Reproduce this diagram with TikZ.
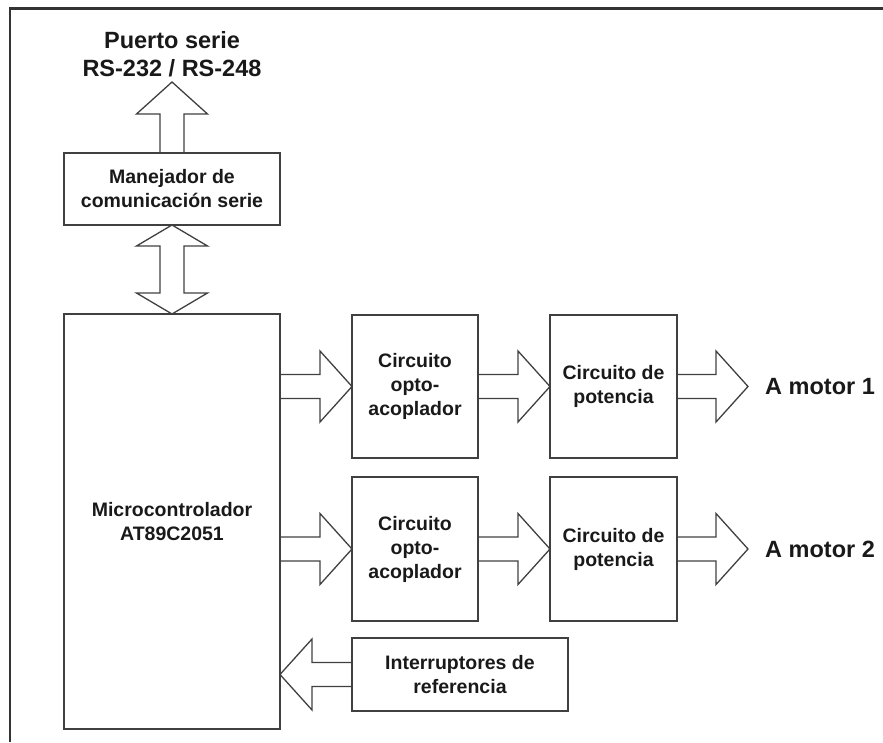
\documentclass[tikz,border=0pt]{standalone}
\usepackage{fontspec}
\setmainfont{Liberation Sans}
\usepackage{tikz}
\usetikzlibrary{positioning,calc}

\newcommand{\boxfont}{\fontsize{19.5}{24}\selectfont\bfseries}
\newcommand{\tagfont}{\fontsize{23.5}{28}\selectfont\bfseries}

\begin{document}
\begin{tikzpicture}[x=1pt,y=1pt,
    blk/.style={draw=black!75, line width=1.3pt, inner sep=0pt, outer sep=0pt, align=center, font=\boxfont, text=black!90},
    lbl/.style={inner sep=0pt, align=center, font=\tagfont, text=black!90},
    fat/.style={draw=black!75, line width=1.3pt, to path={
        ($(\tikztotarget)!32pt!(\tikztostart)$) coordinate (hb)
        ($(\tikztostart)!12pt!90:(\tikztotarget)$)
        -- ($(hb)!12pt!-90:(\tikztostart)$) -- ($(hb)!35.5pt!-90:(\tikztostart)$)
        -- (\tikztotarget)
        -- ($(hb)!35.5pt!90:(\tikztostart)$) -- ($(hb)!12pt!90:(\tikztostart)$)
        -- ($(\tikztostart)!12pt!-90:(\tikztotarget)$) -- cycle}},
    fatboth/.style={draw=black!75, line width=1.3pt, to path={
        ($(\tikztotarget)!21pt!(\tikztostart)$) coordinate (hb)
        ($(\tikztostart)!21pt!(\tikztotarget)$) coordinate (ha)
        ($(ha)!12pt!90:(\tikztotarget)$)
        -- ($(hb)!12pt!-90:(\tikztostart)$) -- ($(hb)!35.5pt!-90:(\tikztostart)$)
        -- (\tikztotarget)
        -- ($(hb)!35.5pt!90:(\tikztostart)$) -- ($(hb)!12pt!90:(\tikztostart)$)
        -- ($(ha)!12pt!-90:(\tikztotarget)$) -- ($(ha)!35.5pt!-90:(\tikztotarget)$)
        -- (\tikztostart)
        -- ($(ha)!35.5pt!90:(\tikztotarget)$) -- cycle}}]
    \useasboundingbox (0,0) rectangle (883,742);
    \draw[line width=2.6pt, black!80] (10,0) -- (10,733.5) -- (883,733.5);

    \node[blk, minimum width=216pt, minimum height=415pt, anchor=north west] (micro) at (64,428) {Microcontrolador\\AT89C2051};
    \node[blk, minimum width=216pt, minimum height=72pt, above=89pt of micro] (man) {Manejador de\\comunicación serie};
    \coordinate [above=71pt of man] (ptip);
    \node[lbl, above=5pt of ptip] (port) {Puerto serie\\RS-232 / RS-248};

    \node[blk, minimum width=126pt, minimum height=143pt, below right=1pt and 72pt of micro.north east] (opto1) {Circuito\\opto-\\acoplador};
    \node[blk, minimum width=127pt, minimum height=143pt, right=72pt of opto1] (pot1) {Circuito de\\potencia};
    \coordinate [right=71pt of pot1] (m1);
    \node[lbl, right=17pt of m1] (mot1) {A motor 1};

    \node[blk, minimum width=126pt, minimum height=144pt, below=19pt of opto1] (opto2) {Circuito\\opto-\\acoplador};
    \node[blk, minimum width=127pt, minimum height=144pt, below=19pt of pot1] (pot2) {Circuito de\\potencia};
    \coordinate [right=71pt of pot2] (m2);
    \node[lbl, right=17pt of m2] (mot2) {A motor 2};

    \node[blk, minimum width=216pt, minimum height=73pt, below right=17pt and 0pt of opto2.south west] (intr) {Interruptores de\\referencia};

    \draw[fat] (man.north) to (ptip);
    \draw[fatboth] (man.south) to (micro.north);

    \draw[fat] (micro.east |- opto1) to (opto1.west);
    \draw[fat] (opto1.east) to (pot1.west);
    \draw[fat] (pot1.east) to (m1);

    \draw[fat] (micro.east |- opto2) to (opto2.west);
    \draw[fat] (opto2.east) to (pot2.west);
    \draw[fat] (pot2.east) to (m2);

    \draw[fat] (intr.west) to (micro.east |- intr);
\end{tikzpicture}
\end{document}
